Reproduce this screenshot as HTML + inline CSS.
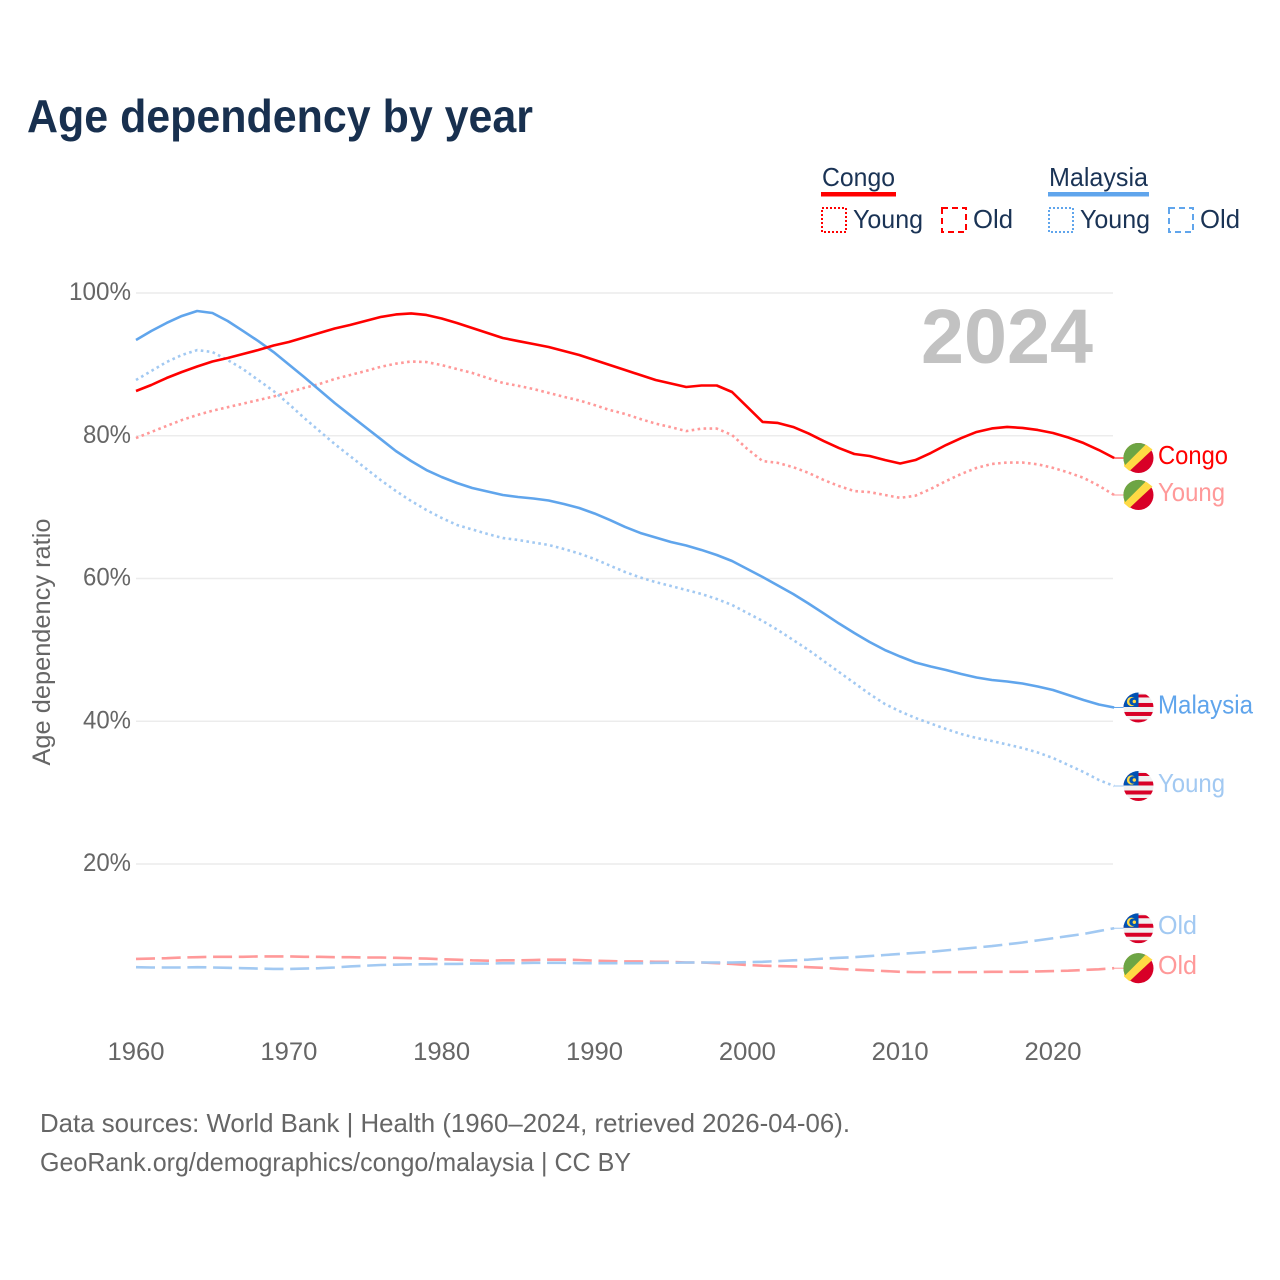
<!DOCTYPE html>
<html lang="en">
<head>
<meta charset="utf-8">
<title>Age dependency by year</title>
<style>
html,body{margin:0;padding:0;background:#fff;}
svg{display:block;font-family:"Liberation Sans",sans-serif;}
</style>
</head>
<body>
<svg id="chart" xmlns="http://www.w3.org/2000/svg" width="1280" height="1280" viewBox="0 0 1280 1280">
  <rect width="1280" height="1280" fill="#fff"/>
  <text x="27" y="132" font-size="46" font-weight="700" fill="#18304f" textLength="506" lengthAdjust="spacingAndGlyphs">Age dependency by year</text>

  <g font-size="26" fill="#1a3355">
    <text x="822" y="186" textLength="73" lengthAdjust="spacingAndGlyphs">Congo</text>
    <rect x="821" y="192" width="75" height="4.5" fill="#ff0000"/>
    <rect x="822" y="208" width="24" height="24" fill="none" stroke="#ff0000" stroke-width="2" stroke-dasharray="2 2"/>
    <text x="853" y="228" textLength="70" lengthAdjust="spacingAndGlyphs">Young</text>
    <rect x="942" y="208" width="24" height="24" fill="none" stroke="#ff0000" stroke-width="2" stroke-dasharray="6 4"/>
    <text x="973" y="228" textLength="40" lengthAdjust="spacingAndGlyphs">Old</text>
    <text x="1049" y="186" textLength="99" lengthAdjust="spacingAndGlyphs">Malaysia</text>
    <rect x="1048" y="192" width="101" height="4.5" fill="#60a5ec"/>
    <rect x="1049" y="208" width="24" height="24" fill="none" stroke="#60a5ec" stroke-width="2" stroke-dasharray="2 2"/>
    <text x="1080" y="228" textLength="70" lengthAdjust="spacingAndGlyphs">Young</text>
    <rect x="1169" y="208" width="24" height="24" fill="none" stroke="#60a5ec" stroke-width="2" stroke-dasharray="6 4"/>
    <text x="1200" y="228" textLength="40" lengthAdjust="spacingAndGlyphs">Old</text>
  </g>

  <g id="grid"></g>
  <g id="yticks"></g>
  <g id="xticks"></g>
  <text transform="translate(50,642) rotate(-90)" text-anchor="middle" font-size="25" fill="#666" textLength="247" lengthAdjust="spacingAndGlyphs">Age dependency ratio</text>
  <text x="921" y="363" font-size="77" font-weight="700" fill="#c2c2c2" textLength="172" lengthAdjust="spacingAndGlyphs">2024</text>
  <g id="series"></g>
  <g id="endmarks"></g>

  <g font-size="26" fill="#666">
    <text x="40" y="1132" textLength="810" lengthAdjust="spacingAndGlyphs">Data sources: World Bank | Health (1960–2024, retrieved 2026-04-06).</text>
    <text x="40" y="1171" textLength="591" lengthAdjust="spacingAndGlyphs">GeoRank.org/demographics/congo/malaysia | CC BY</text>
  </g>
</svg>
<script>
const startYear = 1960;
const xTickLabels = [1960, 1970, 1980, 1990, 2000, 2010, 2020];
const yTickLabels = [20, 40, 60, 80, 100];

const congoTotal = [86.27,87.11,88.09,88.93,89.70,90.40,90.89,91.45,92.01,92.64,93.13,93.77,94.40,95.03,95.52,96.08,96.64,96.99,97.13,96.92,96.43,95.80,95.10,94.40,93.70,93.27,92.85,92.43,91.87,91.31,90.61,89.91,89.21,88.51,87.81,87.32,86.83,87.04,87.04,86.13,84.03,81.93,81.79,81.23,80.32,79.26,78.28,77.44,77.16,76.60,76.11,76.60,77.58,78.70,79.68,80.53,81.02,81.23,81.09,80.81,80.39,79.75,78.98,78.00,76.88];
const congoYoung = [79.68,80.53,81.37,82.20,82.90,83.50,84.00,84.50,85.00,85.50,86.10,86.70,87.25,87.95,88.50,89.05,89.65,90.10,90.40,90.33,89.90,89.35,88.80,88.10,87.40,87.00,86.55,86.00,85.45,84.95,84.30,83.60,83.05,82.35,81.70,81.20,80.65,81.00,81.00,80.10,78.15,76.45,76.20,75.60,74.80,73.80,72.95,72.25,72.10,71.70,71.30,71.60,72.55,73.65,74.65,75.50,76.05,76.25,76.25,76.00,75.50,74.85,74.10,73.00,71.70];
const congoOld = [6.70,6.75,6.80,6.90,6.95,7.00,7.00,7.00,7.05,7.05,7.05,7.00,7.00,6.95,6.95,6.90,6.90,6.85,6.80,6.75,6.65,6.60,6.50,6.45,6.50,6.50,6.55,6.60,6.60,6.55,6.45,6.40,6.35,6.35,6.30,6.30,6.20,6.20,6.10,6.00,5.85,5.75,5.70,5.65,5.55,5.45,5.30,5.20,5.10,5.00,4.90,4.85,4.85,4.85,4.85,4.85,4.90,4.90,4.90,4.95,5.00,5.05,5.15,5.25,5.40];
const malaysiaTotal = [93.42,94.68,95.80,96.78,97.48,97.20,96.08,94.68,93.27,91.73,89.98,88.23,86.41,84.59,82.90,81.23,79.55,77.86,76.46,75.20,74.22,73.38,72.68,72.19,71.70,71.42,71.21,70.93,70.44,69.88,69.11,68.20,67.22,66.38,65.75,65.11,64.62,64.00,63.29,62.45,61.33,60.21,59.02,57.83,56.50,55.10,53.69,52.36,51.10,49.98,49.07,48.23,47.67,47.18,46.62,46.13,45.78,45.57,45.29,44.87,44.38,43.68,42.98,42.35,41.93];
const malaysiaYoung = [87.81,89.07,90.33,91.31,92.00,91.73,90.60,89.35,87.80,86.27,84.45,82.50,80.67,78.84,77.16,75.48,73.80,72.26,70.86,69.60,68.48,67.50,66.87,66.24,65.67,65.40,65.04,64.70,64.13,63.50,62.73,61.82,60.91,60.14,59.50,58.95,58.39,57.83,57.13,56.29,55.17,54.05,52.78,51.38,49.98,48.44,46.90,45.36,43.82,42.42,41.37,40.46,39.68,38.91,38.21,37.65,37.23,36.74,36.25,35.62,34.85,33.87,32.89,31.77,30.93];
const malaysiaOld = [5.55,5.50,5.50,5.50,5.55,5.50,5.45,5.40,5.35,5.30,5.30,5.35,5.40,5.50,5.65,5.75,5.85,5.90,5.95,5.95,6.00,6.00,6.05,6.05,6.10,6.10,6.15,6.15,6.15,6.10,6.10,6.10,6.10,6.10,6.15,6.15,6.20,6.20,6.20,6.20,6.25,6.30,6.40,6.50,6.60,6.75,6.85,6.95,7.10,7.25,7.40,7.55,7.70,7.90,8.10,8.30,8.50,8.75,9.00,9.30,9.60,9.90,10.20,10.60,11.00];

const NS = 'http://www.w3.org/2000/svg';
function xScale(year) { return 136 + (year - 1960) * 15.2833; }
function yScale(v) { return 293 + (100 - v) * 7.1375; }
function make(tag, parent, attrs) {
  const el = document.createElementNS(NS, tag);
  for (const k in attrs) el.setAttribute(k, attrs[k]);
  parent.appendChild(el);
  return el;
}

const gridG = document.getElementById('grid');
const yG = document.getElementById('yticks');
const xG = document.getElementById('xticks');

yTickLabels.forEach(function (v) {
  const line = make('line', gridG, { x1: 136, x2: 1113, y1: yScale(v), y2: yScale(v), stroke: '#ececec', 'stroke-width': 1.5 });
  
  
  const t = make('text', yG, { x: 131, y: yScale(v) + 7, 'text-anchor': 'end', 'font-size': 25, fill: '#666', textLength: v === 100 ? 62 : 48, lengthAdjust: 'spacingAndGlyphs' });
  
  
  t.textContent = v + '%';
});

xTickLabels.forEach(function (yr) {
  const t = make('text', xG, { x: xScale(yr), y: 1060, 'text-anchor': 'middle', 'font-size': 25, fill: '#666', textLength: 57, lengthAdjust: 'spacingAndGlyphs' });
  
  
  t.textContent = yr;
});

const seriesG = document.getElementById('series');
const endG = document.getElementById('endmarks');

function drawLine(values, color, dash, name) {
  const pts = values.map(function (v, i) { return xScale(startYear + i).toFixed(2) + ',' + yScale(v).toFixed(2); }).join(' ');
  const attrs = { points: pts, fill: 'none', stroke: color, 'stroke-width': 2.6, 'stroke-linejoin': 'round' };
  if (dash) attrs['stroke-dasharray'] = dash;
  const p = make('polyline', seriesG, attrs);
  
  
}

function drawCongoFlag(g) {
  make('circle', g, { r: 15, fill: '#d80027' });
  make('path', g, { d: 'M-4.2,-14.4 A15,15 0 0 0 -14.4,-4.2 L-14.4,8.4 L-9,13 L14,-8.5 L8,-13 Z', fill: '#ffda44' });
  make('path', g, { d: 'M7,-13.3 A15,15 0 0 0 -13.3,7 Z', fill: '#6da544' });
}

function drawMalaysiaFlag(g, clipId) {
  const cp = make('clipPath', g, { id: clipId });
  make('circle', cp, { r: 15 });
  const inner = make('g', g, { 'clip-path': 'url(#' + clipId + ')' });
  make('rect', inner, { x: -15, y: -15, width: 30, height: 30, fill: '#f0f0f0' });
  make('rect', inner, { x: -15, y: -13, width: 30, height: 3, fill: '#d80027' });
  make('rect', inner, { x: -15, y: -4.5, width: 30, height: 4, fill: '#d80027' });
  make('rect', inner, { x: -15, y: 4.5, width: 30, height: 4, fill: '#d80027' });
  make('rect', inner, { x: -15, y: 12, width: 30, height: 3, fill: '#d80027' });
  make('rect', inner, { x: -15, y: -15, width: 15, height: 14.5, fill: '#0052b4' });
  make('circle', inner, { cx: -7, cy: -6, r: 4.6, fill: '#ffda44' });
  make('circle', inner, { cx: -5.4, cy: -6, r: 3.8, fill: '#0052b4' });
  make('circle', inner, { cx: -4.2, cy: -6, r: 1.7, fill: '#ffda44' });
}

function drawEnd(values, color, label, width, country, key) {
  const y = yScale(values[values.length - 1]);
  const lead = make('line', endG, { x1: 1114, x2: 1124, y1: y, y2: y, stroke: color, 'stroke-width': 1 });
  
  
  const g = make('g', endG, { transform: 'translate(1138.5,' + y.toFixed(2) + ')' });
  
  
  if (country === 'congo') drawCongoFlag(g);
  else drawMalaysiaFlag(g, key + '-clip');
  const t = make('text', endG, { x: 1158, y: y + 6, 'font-size': 26, fill: color, textLength: width, lengthAdjust: 'spacingAndGlyphs' });
  
  
  t.textContent = label;
}

const redMain = '#ff0000', redLight = '#ff9999', blueMain = '#60a5ec', blueLight = '#a2c9f2';
const dotted = '2.6 3.4', dashed = '19 6.7';

drawLine(congoOld, redLight, dashed, 'congo-old-line');
drawLine(malaysiaOld, blueLight, dashed, 'malaysia-old-line');
drawLine(congoYoung, redLight, dotted, 'congo-young-line');
drawLine(malaysiaYoung, blueLight, dotted, 'malaysia-young-line');
drawLine(malaysiaTotal, blueMain, null, 'malaysia-total-line');
drawLine(congoTotal, redMain, null, 'congo-total-line');

drawEnd(congoTotal, redMain, 'Congo', 70, 'congo', 'congo-total');
drawEnd(congoYoung, redLight, 'Young', 67, 'congo', 'congo-young');
drawEnd(congoOld, redLight, 'Old', 39, 'congo', 'congo-old');
drawEnd(malaysiaTotal, blueMain, 'Malaysia', 95, 'malaysia', 'malaysia-total');
drawEnd(malaysiaYoung, blueLight, 'Young', 67, 'malaysia', 'malaysia-young');
drawEnd(malaysiaOld, blueLight, 'Old', 39, 'malaysia', 'malaysia-old');
</script>
</body>
</html>
